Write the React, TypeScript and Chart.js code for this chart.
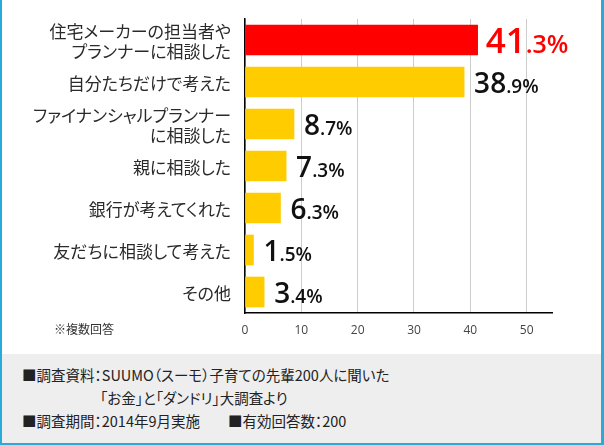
import React, { useEffect, useRef, useState } from "react";
import { Chart, registerables } from "chart.js";

Chart.register(...registerables);

const categories: (string | string[])[] = [
  ["住宅メーカーの担当者や", "プランナーに相談した"],
  "自分たちだけで考えた",
  ["ファイナンシャルプランナー", "に相談した"],
  "親に相談した",
  "銀行が考えてくれた",
  "友だちに相談して考えた",
  "その他",
];
const values: number[] = [41.3, 38.9, 8.7, 7.3, 6.3, 1.5, 3.4];
const xTicks: number[] = [0, 10, 20, 30, 40, 50];
const highlightIndex = 0;

const RED = "#ff0000";
const YELLOW = "#ffcc00";
const JP = "'Noto Sans CJK JP', 'Noto Sans', sans-serif";
const NUM = "'Open Sans', 'Noto Sans', sans-serif";

const valueLabels = {
  id: "valueLabels",
  afterDatasetsDraw(chart: any) {
    const ctx = chart.ctx as CanvasRenderingContext2D;
    const meta = chart.getDatasetMeta(0);
    meta.data.forEach((el: any, i: number) => {
      const v = values[i];
      const [intPart, decPart] = v.toFixed(1).split(".");
      const hl = i === highlightIndex;
      const big = hl ? 35 : 28;
      const small = hl ? 25 : 19;
      const x0 = el.x + (hl ? 8 : 10);
      const yb = el.y + (hl ? 13 : 11);
      ctx.save();
      ctx.fillStyle = hl ? RED : "#111111";
      ctx.textAlign = "left";
      ctx.textBaseline = "alphabetic";
      ctx.font = `600 ${big}px ${NUM}`;
      ctx.fillText(intPart, x0, yb);
      const w = ctx.measureText(intPart).width;
      ctx.font = `600 ${small}px ${NUM}`;
      ctx.fillText("." + decPart + "%", x0 + w, yb);
      ctx.restore();
    });
  },
};

export default function App() {
  const canvasRef = useRef<HTMLCanvasElement | null>(null);
  const [tickYs, setTickYs] = useState<number[]>([]);

  useEffect(() => {
    if (!canvasRef.current) return;
    const chart = new Chart(canvasRef.current, {
      type: "bar",
      data: {
        labels: categories as any,
        datasets: [
          {
            data: values,
            backgroundColor: values.map((_, i) => (i === highlightIndex ? RED : YELLOW)),
            barThickness: 30,
          },
        ],
      },
      options: {
        indexAxis: "y",
        responsive: false,
        animation: false,
        layout: { padding: { top: 19, right: 52, left: 0, bottom: 0 } },
        plugins: {
          legend: { display: false },
          tooltip: { enabled: false },
        },
        scales: {
          x: {
            type: "linear",
            min: 0,
            max: 54.5,
            afterBuildTicks: (s: any) => {
              s.ticks = xTicks.map((v) => ({ value: v }));
            },
            afterFit: (s: any) => {
              s.height = 41;
            },
            ticks: {
              stepSize: 10,
              includeBounds: false,
              color: "#444444",
              padding: 10,
              font: { family: NUM, size: 12 },
            },
            grid: { color: "#cccccc", lineWidth: 1, drawTicks: false },
            border: { color: "#000000", width: 1.5 },
          },
          y: {
            type: "category",
            afterFit: (s: any) => {
              s.width = 245;
            },
            ticks: { display: false, autoSkip: false },
            grid: { display: false, drawTicks: false },
            border: { color: "#000000", width: 1.5 },
          },
        },
      },
      plugins: [valueLabels],
    });
    const ys = chart.scales.y;
    setTickYs(categories.map((_, i) => ys.getPixelForTick(i)));
    return () => chart.destroy();
  }, []);

  const BLUE = "#29aad9";
  const textStyle: React.CSSProperties = {
    position: "absolute",
    fontFamily: JP,
    fontSize: 14.5,
    color: "#222222",
    whiteSpace: "nowrap",
    lineHeight: "18px",
    fontFeatureSettings: '"palt"',
  };

  return (
    <div
      style={{
        position: "absolute",
        left: 0,
        top: 0,
        width: 604,
        height: 445,
        background: "#ffffff",
        overflow: "hidden",
      }}
    >
      <canvas
        ref={canvasRef}
        width={604}
        height={354}
        style={{ position: "absolute", left: 0, top: 0, width: 604, height: 354 }}
      />
      {tickYs.map((y, i) => {
        const lines = Array.isArray(categories[i]) ? (categories[i] as string[]) : [categories[i] as string];
        return (
          <div
            key={i}
            style={{
              position: "absolute",
              right: 604 - 231,
              top: y + 1,
              transform: "translateY(-50%)",
              textAlign: "right",
              fontFamily: JP,
              fontSize: 17,
              lineHeight: "20px",
              color: "#2a2a2a",
              whiteSpace: "nowrap",
              fontFeatureSettings: '"palt"',
            }}
          >
            {lines.map((l, j) => (
              <div key={j}>{l}</div>
            ))}
          </div>
        );
      })}
      <div
        style={{
          position: "absolute",
          left: 54,
          top: 320,
          fontFamily: JP,
          fontSize: 12,
          color: "#333333",
          lineHeight: "18px",
          whiteSpace: "nowrap",
        }}
      >
        ※複数回答
      </div>
      <div
        style={{
          position: "absolute",
          left: 0,
          top: 354,
          width: 604,
          height: 91,
          background: "#eeeeee",
        }}
      />
      <div style={{ ...textStyle, left: 22, top: 366 }}>
        ■調査資料：SUUMO（スーモ）子育ての先輩200人に聞いた
      </div>
      <div style={{ ...textStyle, left: 100, top: 389 }}>
        「お金」と「ダンドリ」大調査より
      </div>
      <div style={{ ...textStyle, left: 22, top: 412 }}>
        ■調査期間：2014年9月実施
      </div>
      <div style={{ ...textStyle, left: 228, top: 412 }}>■有効回答数：200</div>
      <div style={{ position: "absolute", left: 0, top: 0, width: 2, height: 445, background: BLUE }} />
      <div style={{ position: "absolute", left: 601, top: 0, width: 3, height: 445, background: BLUE }} />
      <div style={{ position: "absolute", left: 0, top: 443, width: 604, height: 2, background: BLUE }} />
    </div>
  );
}
